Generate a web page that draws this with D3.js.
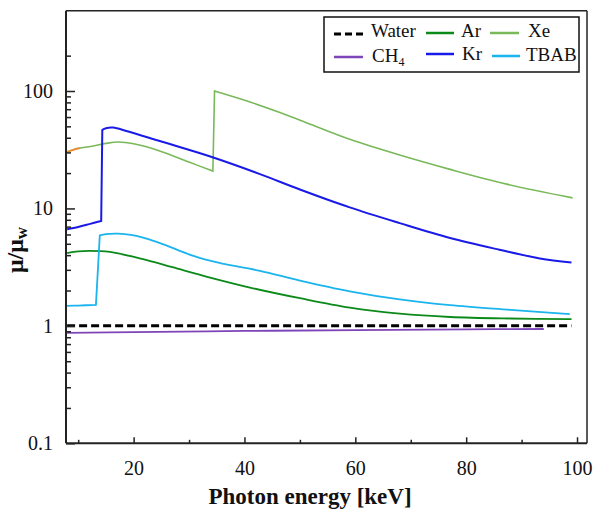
<!DOCTYPE html>
<html>
<head>
<meta charset="utf-8">
<script src="https://cdn.jsdelivr.net/npm/d3@7"></script>
<style>
  body { margin: 0; background: #fff; }
</style>
</head>
<body>
<div id="chart"></div>
<script>
// valeurs (energie en keV, rapport mu/mu_w)
const waterE = [8, 99];
const waterV = [1, 1];

const ch4E = [8, 20, 40, 60, 80, 94];
const ch4V = [0.87, 0.885, 0.905, 0.92, 0.935, 0.94];

const arE = [8, 10, 12, 15.7, 21.7, 27, 33.8, 41, 50, 59, 68, 77.1, 88, 99];
const arV = [4.16, 4.3, 4.35, 4.26, 3.7, 3.16, 2.58, 2.12, 1.72, 1.43, 1.27, 1.19, 1.155, 1.14];

const krE = [8, 10, 12, 14.15, 14.35, 15, 16.3, 18.7, 25, 34.1, 42.8, 50, 59, 68, 77.1, 86, 93.3, 99];
const krV = [6.65, 6.95, 7.35, 7.83, 46.6, 48.2, 48.8, 45.7, 37.1, 27.4, 19.6, 14.5, 10.2, 7.5, 5.6, 4.45, 3.75, 3.46];

const xeE = [8, 10, 12.7, 15, 17.2, 20, 24.7, 30, 34.3, 34.6, 41, 46.4, 52, 59, 68, 77.1, 87.3, 99.2];
const xeV = [30.3, 32.5, 34, 35.8, 36.8, 35.5, 30.9, 24.8, 20.8, 100, 80.6, 65.5, 51.9, 38.8, 28.5, 21.5, 16.1, 12.3];

// petit bout orange au debut de la courbe Xe
const xeOrangeE = [8, 9, 10.3];
const xeOrangeV = [30.3, 31.4, 32.6];

const tbabE = [8, 10, 13.2, 13.9, 15, 17.2, 19.5, 21.7, 24, 26, 28, 30.8, 33, 36, 42.8, 50, 59, 68, 77.1, 88, 98.7];
const tbabV = [1.48, 1.49, 1.51, 5.91, 6.05, 6.1, 5.96, 5.65, 5.22, 4.82, 4.42, 3.94, 3.66, 3.39, 2.94, 2.43, 1.97, 1.68, 1.5, 1.37, 1.26];

const xMajor = [20, 40, 60, 80, 100];
const xMinor = [10, 30, 50, 70, 90];
const yMajor = [0.1, 1, 10, 100];
const yMinor = [0.2, 0.3, 0.4, 0.5, 0.6, 0.7, 0.8, 0.9, 2, 3, 4, 5, 6, 7, 8, 9, 20, 30, 40, 50, 60, 70, 80, 90, 200];

const legendNames = ["Water", "Ar", "Xe", "CH4", "Kr", "TBAB"];

const width = 594, height = 511;
const plotL = 66, plotR = 587, plotT = 10.7, plotB = 443.3;
const serif = "'Liberation Serif', 'Times New Roman', Times, serif";

const svg = d3.select("#chart")
  .append("svg")
    .attr("width", width)
    .attr("height", height)
    .attr("font-family", serif);

const x = d3.scaleLinear().domain([7.8, 101.8]).range([plotL, plotR]);
const y = d3.scaleLog().domain([0.1, 100]).range([plotB, 91]);
// on prolonge le domaine jusqu'au bord haut du cadre
y.domain([0.1, y.invert(plotT)]).range([plotB, plotT]);

const series = [
  { name: "Water", e: waterE, v: waterV, color: "#000", w: 3, dash: "8,4" },
  { name: "CH4", e: ch4E, v: ch4V, color: "#7e45b8", w: 1.8 },
  { name: "Ar", e: arE, v: arV, color: "#0b8a1a", w: 1.8 },
  { name: "TBAB", e: tbabE, v: tbabV, color: "#1ab4ee", w: 1.8 },
  { name: "Xe", e: xeE, v: xeV, color: "#79b95a", w: 1.6 },
  { name: "Kr", e: krE, v: krV, color: "#1a1ae8", w: 2 },
  { name: "orange", e: xeOrangeE, v: xeOrangeV, color: "#ee8a2a", w: 1.8 }
];

const line = d3.line()
  .x(d => x(d[0]))
  .y(d => y(d[1]))
  .curve(d3.curveCatmullRom.alpha(0.5));

// coupe la courbe aux seuils K (saut de valeur) et relie par un trait droit
function edgePath(d) {
  const pts = d.e.map((e, i) => [e, d.v[i]]);
  const segs = [[pts[0]]];
  for (let i = 1; i < pts.length; i++) {
    if (pts[i][1] / pts[i - 1][1] > 2) segs.push([]);
    segs[segs.length - 1].push(pts[i]);
  }
  return segs.map((s, i) => {
    const p = line(s);
    return i === 0 ? p : "L" + p.slice(1);
  }).join("");
}

svg.append("g")
  .selectAll("path")
  .data(series)
  .enter()
  .append("path")
    .attr("d", edgePath)
    .attr("fill", "none")
    .attr("stroke", d => d.color)
    .attr("stroke-width", d => d.w)
    .attr("stroke-dasharray", d => d.dash || null);

// axes, graduations vers l'interieur
svg.append("g")
  .attr("transform", "translate(0," + plotB + ")")
  .call(d3.axisBottom(x).tickValues(xMajor).tickSize(-6).tickSizeOuter(0).tickPadding(18).tickFormat(d3.format("d")));
svg.append("g")
  .attr("transform", "translate(0," + plotB + ")")
  .call(d3.axisBottom(x).tickValues(xMinor).tickSize(-3.5).tickSizeOuter(0).tickFormat(""));

svg.append("g")
  .attr("transform", "translate(" + plotL + ",0)")
  .call(d3.axisLeft(y).tickValues(yMajor).tickSize(-9).tickSizeOuter(0).tickPadding(13).tickFormat(d => d < 1 ? "0.1" : d3.format("d")(d)));
svg.append("g")
  .attr("transform", "translate(" + plotL + ",0)")
  .call(d3.axisLeft(y).tickValues(yMinor).tickSize(-5).tickSizeOuter(0).tickFormat(""));

svg.selectAll(".domain").remove();
svg.selectAll(".tick line").attr("stroke", "#222").attr("stroke-width", 1.5);
svg.selectAll("g").attr("font-family", serif).attr("font-size", 20);
svg.selectAll(".tick text").attr("fill", "#111");

// cadre
svg.append("line").attr("x1", plotL).attr("x2", plotL).attr("y1", plotT).attr("y2", plotB)
  .attr("stroke", "#222").attr("stroke-width", 2);
svg.append("line").attr("x1", plotL).attr("x2", plotR).attr("y1", plotB).attr("y2", plotB)
  .attr("stroke", "#222").attr("stroke-width", 2);
svg.append("line").attr("x1", plotL).attr("x2", plotR).attr("y1", plotT).attr("y2", plotT)
  .attr("stroke", "#222").attr("stroke-width", 1.5);
svg.append("line").attr("x1", plotR).attr("x2", plotR).attr("y1", plotT).attr("y2", plotB)
  .attr("stroke", "#222").attr("stroke-width", 1.5);

// titres des axes
svg.append("text")
  .attr("x", 310)
  .attr("y", 504)
  .attr("text-anchor", "middle")
  .attr("font-size", 23)
  .attr("font-weight", "bold")
  .attr("fill", "#111")
  .text("Photon energy [keV]");

const yl = svg.append("text")
  .attr("transform", "translate(23,250) rotate(-90)")
  .attr("text-anchor", "middle")
  .attr("font-size", 24)
  .attr("font-weight", "bold")
  .attr("fill", "#111");
yl.append("tspan").text("\u03bc/\u03bc");
yl.append("tspan").attr("font-size", 17).attr("dy", 4).text("w");

// legende
svg.append("rect")
  .attr("x", 324).attr("y", 17)
  .attr("width", 255).attr("height", 55)
  .attr("fill", "#fff")
  .attr("stroke", "#111")
  .attr("stroke-width", 1.5);

const legendPos = [
  { x0: 334, x1: 363, tx: 371, ly: 34, ty: 37 },
  { x0: 426, x1: 454, tx: 461, ly: 33, ty: 37 },
  { x0: 490, x1: 519, tx: 528, ly: 33, ty: 37 },
  { x0: 334, x1: 363, tx: 372, ly: 57, ty: 62 },
  { x0: 426, x1: 454, tx: 462, ly: 54, ty: 60 },
  { x0: 492, x1: 520, tx: 526, ly: 56, ty: 61 }
];

legendNames.forEach((name, i) => {
  const s = series.find(d => d.name === name);
  const p = legendPos[i];
  svg.append("line")
    .attr("x1", p.x0).attr("x2", p.x1)
    .attr("y1", p.ly).attr("y2", p.ly)
    .attr("stroke", s.color)
    .attr("stroke-width", name === "Water" ? 3 : 2.5)
    .attr("stroke-dasharray", name === "Water" ? "7,4" : null);
  const t = svg.append("text")
    .attr("x", p.tx).attr("y", p.ty)
    .attr("font-size", 19)
    .attr("fill", "#111");
  if (name === "CH4") {
    t.append("tspan").text("CH");
    t.append("tspan").attr("font-size", 12).attr("dy", 4).text("4");
  } else {
    t.text(name);
  }
});
</script>
</body>
</html>
